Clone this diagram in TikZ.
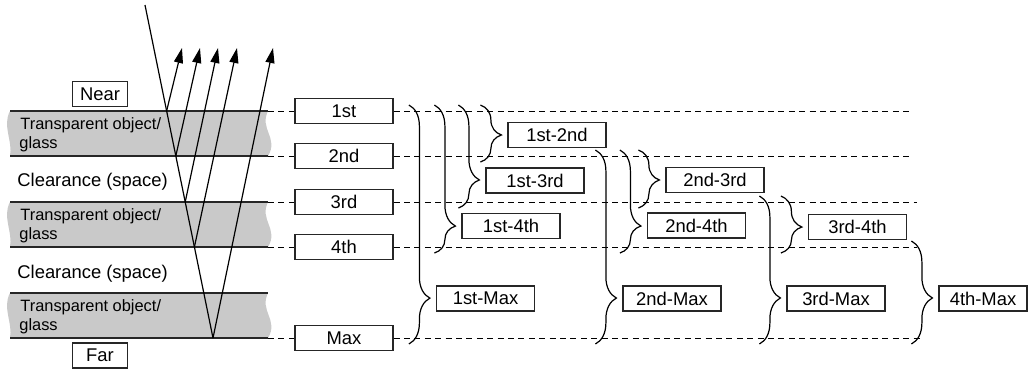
\documentclass[tikz,border=0pt]{standalone}
\usepackage{fontspec}
\setmainfont{Liberation Sans}
\usetikzlibrary{arrows.meta,positioning,calc,decorations.pathreplacing}
\tikzset{
  lbl/.style   = {rectangle, draw=black!85, line width=0.6pt, fill=white,
                  text centered, minimum height=12.5pt, minimum width=49pt,
                  inner sep=0pt, font=\fontsize{9.2}{11}\selectfont},
  surf/.style  = {line width=0.6pt, draw=black!85},
  glass/.style = {fill=gray!42},
  dline/.style = {line width=0.5pt, dash pattern=on 3pt off 2.2pt},
  brc/.style   = {decorate, decoration={brace, amplitude=10.5pt, aspect=#1},
                  line width=0.6pt},
  ray/.style   = {line width=0.6pt},
  arr/.style   = {-{Triangle[length=7.5pt,width=4.5pt]}, line width=0.6pt},
  gtxt/.style  = {anchor=base west, inner sep=0pt, font=\fontsize{8.2}{10}\selectfont},
  ctxt/.style  = {anchor=base west, inner sep=0pt, font=\fontsize{9.2}{11}\selectfont},
}

\begin{document}
\begin{tikzpicture}[x=0.5pt, y=-0.5pt]
\useasboundingbox (0,0) rectangle (1030,372);

%% -- Glass layers --------------------------------------------
\foreach \a/\b in {111/156, 202/247, 293/338} {
  \fill[glass] (10,\a) -- (268,\a) .. controls (259,\a+18) and (279,\b-18) .. (268,\b)
    -- (10,\b) .. controls (13,\b-15) and (2,\a+15) .. (10,\a) -- cycle;
}

%% -- Surfaces ------------------------------------------------
\foreach \y/\n in {111/1, 156/2, 202/3, 247/4, 293/5, 338/6} {
  \coordinate (gl\n) at (10,\y);
  \coordinate (gr\n) at (268,\y);
  \draw[surf] (gl\n) -- (gr\n);
}

%% -- Layer texts ---------------------------------------------
\node[gtxt] (g1a) at (20,129.5) {Transparent object/};
\node[gtxt] (g1b) at (19,148)   {glass};
\node[ctxt] (c1)  at (17,186)   {Clearance (space)};
\node[gtxt] (g2a) at (20,220.5) {Transparent object/};
\node[gtxt] (g2b) at (19,239)   {glass};
\node[ctxt] (c2)  at (17,278)   {Clearance (space)};
\node[gtxt] (g3a) at (20,311.5) {Transparent object/};
\node[gtxt] (g3b) at (19,330)   {glass};

\node[lbl, minimum width=27.5pt] (near) at (100,94)    {Near};
\node[lbl, minimum width=27.5pt] (far)  at (100,355.5) {Far};

%% -- Rays ----------------------------------------------------
\coordinate (src) at (145,5);
\coordinate (p1) at (166.6,111);
\coordinate (p2) at (175.8,156);
\coordinate (p3) at (185.2,202);
\coordinate (p4) at (194.4,247);
\coordinate (p5) at (213,338);
\coordinate (h1) at (182,48);
\coordinate (h2) at (200,48);
\coordinate (h3) at (218,48);
\coordinate (h4) at (237,48);
\coordinate (h5) at (273,48);
\draw[ray] (src) -- (p5);
\foreach \i in {1,...,5} \draw[arr] (p\i) -- (h\i);

%% -- Surface labels ------------------------------------------
\node[lbl] (s1)   at (344,111) {1st};
\node[lbl] (s2)   at (344,156) {2nd};
\node[lbl] (s3)   at (344,202) {3rd};
\node[lbl] (s4)   at (344,247) {4th};
\node[lbl] (smax) at (344,338) {Max};

%% -- Dashed guides -------------------------------------------
\coordinate (e1) at (911,111);
\coordinate (e2) at (911,156);
\coordinate (e3) at (917,202);
\coordinate (e4) at (917,247);
\coordinate (e6) at (920,338);
\draw[dline] (gr1) -- (s1);   \draw[dline] (s1)   -- (e1);
\draw[dline] (gr2) -- (s2);   \draw[dline] (s2)   -- (e2);
\draw[dline] (gr3) -- (s3);   \draw[dline] (s3)   -- (e3);
\draw[dline] (gr4) -- (s4);   \draw[dline] (s4)   -- (e4);
\draw[dline] (gr6) -- (smax); \draw[dline] (smax) -- (e6);

%% -- Distance labels -----------------------------------------
\node[lbl] (d12) at (557,135)   {1st-2nd};
\node[lbl] (d13) at (535,180.5) {1st-3rd};
\node[lbl] (d14) at (511,226)   {1st-4th};
\node[lbl] (d1m) at (485.5,298.5) {1st-Max};
\node[lbl] (d23) at (715,180)   {2nd-3rd};
\node[lbl] (d24) at (696.5,225.5) {2nd-4th};
\node[lbl] (d2m) at (672,298.5) {2nd-Max};
\node[lbl] (d34) at (857.5,227) {3rd-4th};
\node[lbl] (d3m) at (836,298.5) {3rd-Max};
\node[lbl, minimum width=44pt] (d4m) at (983,298.5) {4th-Max};

%% -- Braces --------------------------------------------------
\draw[brc=.526] ($(d12.west |- s1)+(-27,-6)$) -- ($(d12.west |- s2)+(-27,6)$);
\draw[brc=.728] ($(d13.west |- s1)+(-27,-6)$) -- ($(d13.west |- s3)+(-27,6)$);
\draw[brc=.818] ($(d14.west |- s1)+(-27,-6)$) -- ($(d14.west |- s4)+(-27,6)$);
\draw[brc=.808] ($(d1m.west |- s1)+(-27,-6)$) -- ($(d1m.west |- smax)+(-27,6)$);
\draw[brc=.517] ($(d23.west |- s2)+(-27,-6)$) -- ($(d23.west |- s3)+(-27,6)$);
\draw[brc=.738] ($(d24.west |- s2)+(-27,-6)$) -- ($(d24.west |- s4)+(-27,6)$);
\draw[brc=.763] ($(d2m.west |- s2)+(-27,-6)$) -- ($(d2m.west |- smax)+(-27,6)$);
\draw[brc=.544] ($(d34.west |- s3)+(-27,-6)$) -- ($(d34.west |- s4)+(-27,6)$);
\draw[brc=.689] ($(d3m.west |- s3)+(-27,-6)$) -- ($(d3m.west |- smax)+(-27,6)$);
\draw[brc=.553] ($(d4m.west |- s4)+(-27,-6)$) -- ($(d4m.west |- smax)+(-27,6)$);

\end{tikzpicture}
\end{document}
